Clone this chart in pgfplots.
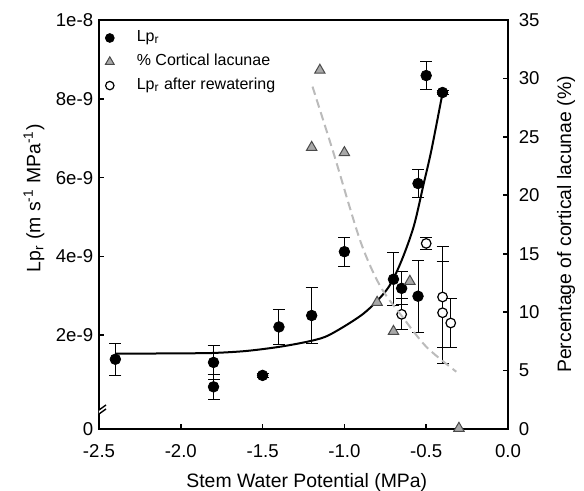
\documentclass[border=0pt]{standalone}
\usepackage{fontspec}
\setmainfont{Liberation Sans}
\usepackage{pgfplots}
\usepackage{pgfplotstable}
\pgfplotsset{compat=1.18}

\definecolor{tri}{HTML}{A8A8A8}
\definecolor{triedge}{HTML}{4A4A4A}
\definecolor{dashgray}{HTML}{BBBBBB}

% Lp_r, units of 1e-9 m s-1 MPa-1
\pgfplotstableread{
x y e
-2.4 1.39 0.40
-1.8 1.31 0.43
-1.8 0.69 0.32
-1.5 0.98 0.05
-1.4 2.21 0.45
-1.2 2.50 0.70
-1.0 4.12 0.37
-0.7 3.42 0.67
-0.65 3.19 0.42
-0.55 2.99 0.91
-0.55 5.85 0.36
-0.5 8.59 0.35
-0.4 8.16 0.05
}\lpr

% Lp_r after rewatering
\pgfplotstableread{
x y e
-0.5 4.33 0.15
-0.65 2.53 0.39
-0.4 2.97 1.29
-0.4 2.57 1.29
-0.35 2.31 0.61
}\rewat

% cortical lacunae (%)
\pgfplotstableread{
x y
-1.15 30.7
-1.2 24.1
-1.0 23.65
-0.8 10.84
-0.7 8.35
-0.6 12.64
-0.3 0.06
}\lac

\pgfplotsset{
  common/.style={
    scale only axis, width=204.5pt, height=204.5pt,
    xmin=-2.5, xmax=0,
    tick align=inside, major tick length=2.5pt,
    axis line style={line width=1pt},
    every tick/.style={black, line width=0.8pt},
    tick label style={font=\fontsize{9.3}{11}\selectfont},
    label style={font=\fontsize{9.7}{12}\selectfont},
    /pgf/number format/assume math mode=true,
  },
  ebar/.style={
    error bars/y dir=both, error bars/y explicit,
    error bars/error bar style={line width=0.5pt, black},
    error bars/error mark options={rotate=90, mark size=3pt, line width=0.5pt, black},
  },
}

\begin{document}
\begin{tikzpicture}
\begin{axis}[common, name=main,
  ymin=-0.38, ymax=10,
  xtick={-2.5,-2,-1.5,-1,-0.5,0},
  xticklabels={-2.5,-2.0,-1.5,-1.0,-0.5,0.0},
  xtick pos=bottom, ytick pos=left,
  ytick={-0.38,2,4,6,8,10},
  yticklabels={0,2e-9,4e-9,6e-9,8e-9,1e-8},
  xticklabel style={yshift=-4.4pt},
  yticklabel style={xshift=0.6pt},
  xlabel={Stem Water Potential (MPa)},
  xlabel style={at={(axis description cs:0.508,-0.142)}, anchor=base},
  ylabel={Lp\textsubscript{r} (m s\textsuperscript{-1} MPa\textsuperscript{-1})},
  ylabel style={at={(axis description cs:-0.159,0.564)}, anchor=center},
]
% fitted curve
\addplot[black, line width=1pt, smooth, no marks] coordinates {
  (-2.4,1.53) (-2.0,1.54) (-1.8,1.55) (-1.6,1.60) (-1.39,1.71) (-1.2,1.86)
  (-1.086,2.02) (-0.883,2.55) (-0.74,3.16) (-0.658,3.82) (-0.577,4.75)
  (-0.515,5.85) (-0.468,6.70) (-0.4,8.15)};
\addplot[only marks, mark=*, mark size=2.65pt, black, ebar]
  table[x=x, y=y, y error=e] {\lpr};
\addplot[only marks, mark=*, mark size=2.4pt, mark options={fill=white, draw=black, line width=0.6pt}, ebar]
  table[x=x, y=y, y error=e] {\rewat};
% axis break
\draw[white, line width=2pt] ([yshift=7.3pt]axis description cs:0,0) -- ([yshift=9.7pt]axis description cs:0,0);
\draw[black, line width=0.7pt] ([xshift=-3.5pt, yshift=5pt]axis description cs:0,0) -- ++(7pt,5pt);
\draw[black, line width=0.7pt] ([xshift=-3.5pt, yshift=7pt]axis description cs:0,0) -- ++(7pt,5pt);
\end{axis}

\begin{axis}[common,
  hide x axis, axis y line*=right,
  ymin=0, ymax=35, ytick={0,5,...,35},
  yticklabel style={xshift=1.9pt},
  ylabel={Percentage of cortical lacunae (\%)},
  ylabel style={at={(axis description cs:1.142,0.5)}, anchor=center},
  legend style={draw=none, fill=none, at={(axis description cs:0,1)}, anchor=north west,
    xshift=3pt, yshift=-4.3pt, font=\fontsize{8}{9}\selectfont, row sep=2.9pt, inner sep=0pt,
    nodes={inner sep=0.5pt, text height=6pt, text depth=2pt}},
  legend cell align=left,
  legend image code/.code={\path[draw=none] (0pt,0pt) -- (13pt,0pt); \draw[#1] plot coordinates {(0pt,0pt)};},
]
\addplot[forget plot, dashgray, line width=1pt, smooth, dash pattern=on 4.3pt off 2.4pt] coordinates {
  (-1.195,29.3) (-1.066,23.6) (-0.903,16.1) (-0.78,12.2) (-0.64,9.5) (-0.497,7.0) (-0.316,4.9)};
\addplot[forget plot, only marks, mark=triangle*, mark size=3pt, mark options={fill=tri, draw=triedge, line width=0.5pt}]
  table[x=x, y=y] {\lac};
\addlegendimage{only marks, mark=*, mark size=2.2pt, black}
\addlegendentry{Lp\textsubscript{r}}
\addlegendimage{only marks, mark=triangle*, mark size=2.5pt, mark options={fill=tri, draw=triedge, line width=0.5pt}}
\addlegendentry{\% Cortical lacunae}
\addlegendimage{only marks, mark=*, mark size=2.1pt, mark options={fill=white, draw=black, line width=0.6pt}}
\addlegendentry{Lp\textsubscript{r} after rewatering}
\end{axis}

\pgfresetboundingbox
\path[use as bounding box] ([xshift=-49.5pt, yshift=-31pt]main.south west) rectangle ([xshift=38pt, yshift=10pt]main.north east);
\end{tikzpicture}
\end{document}
